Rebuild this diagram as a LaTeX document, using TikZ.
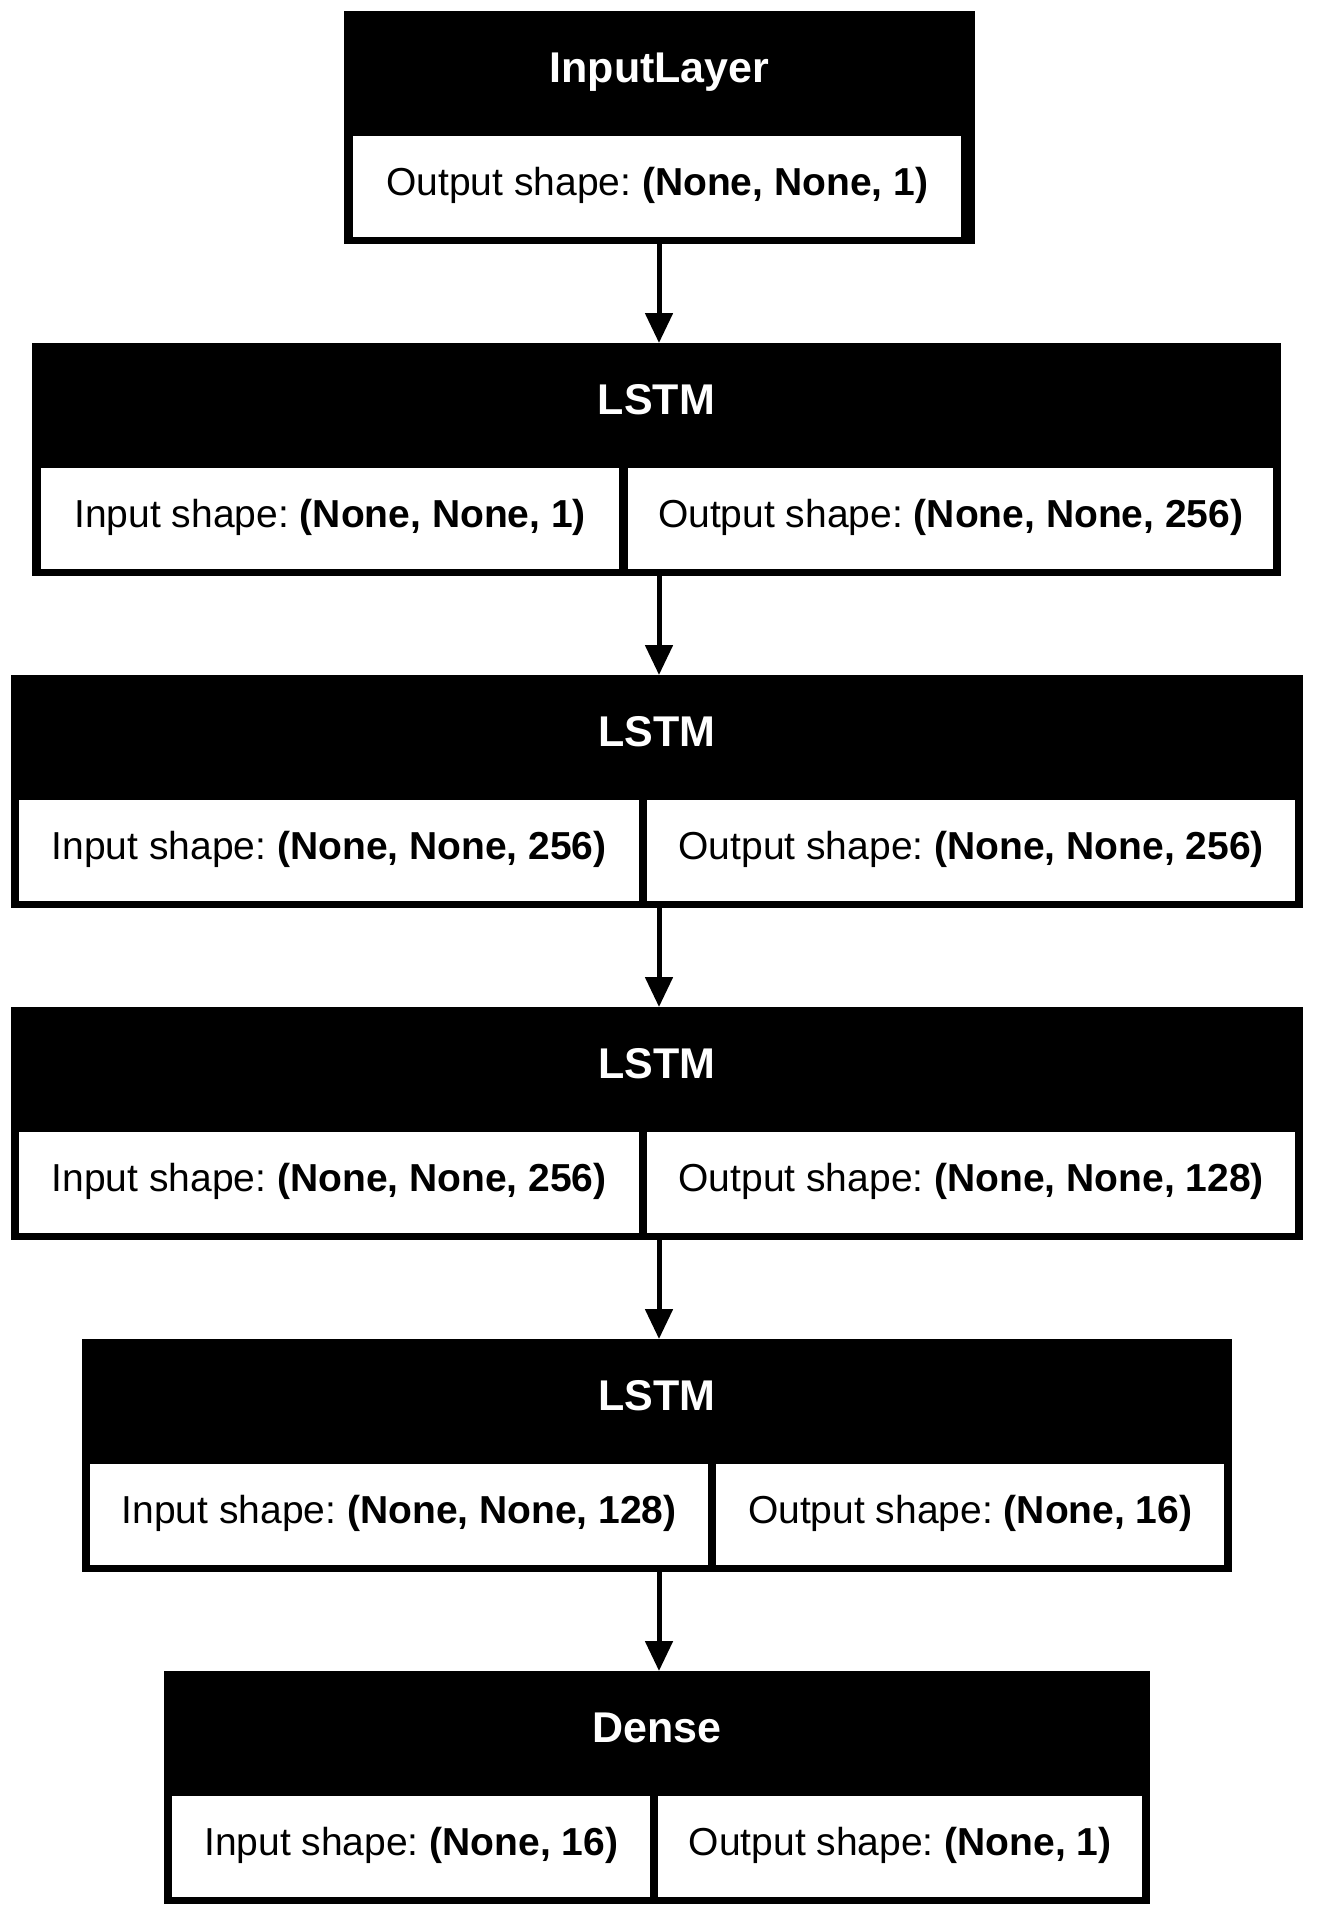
\documentclass[tikz,border=0pt]{standalone}
\usepackage{fontspec}
\setmainfont{Liberation Sans}
\usetikzlibrary{arrows.meta}
\frenchspacing

\tikzset{
    layerbox/.style={rectangle,fill=black,inner sep=0pt,anchor=north west,minimum height=233pt},
    cellbox/.style={rectangle,fill=white,inner sep=0pt,anchor=north west,minimum height=101pt,
        font=\fontsize{39}{47}\selectfont,text height=29pt,text depth=12pt},
    headtext/.style={anchor=base,inner sep=0pt,text=white,font=\fontsize{43}{52}\selectfont\bfseries},
    flow/.style={line width=5pt,-{Triangle[width=27pt,length=30pt]}},
}

\begin{document}
\begin{tikzpicture}[x=1pt,y=-1pt]
    \useasboundingbox (0,0) rectangle (1319,1922);

    % input layer
    \node[layerbox,minimum width=631pt] (inl) at (344,11) {};
    \node[headtext] (inl-t) at (659.5,82) {InputLayer};
    \node[cellbox,minimum width=608pt] (inl-o) at (353,136) {Output shape: \textbf{(None, None, 1)}};

    % lstm 1
    \node[layerbox,minimum width=1249pt] (l1) at (32,343) {};
    \node[headtext] (l1-t) at (656.5,414) {LSTM};
    \node[cellbox,minimum width=578pt] (l1-i) at (41,468) {Input shape: \textbf{(None, None, 1)}};
    \node[cellbox,minimum width=645pt] (l1-o) at (628,468) {Output shape: \textbf{(None, None, 256)}};

    % lstm 2
    \node[layerbox,minimum width=1292pt] (l2) at (11,675) {};
    \node[headtext] (l2-t) at (657,746) {LSTM};
    \node[cellbox,minimum width=620pt] (l2-i) at (19,800) {Input shape: \textbf{(None, None, 256)}};
    \node[cellbox,minimum width=648pt] (l2-o) at (647,800) {Output shape: \textbf{(None, None, 256)}};

    % lstm 3
    \node[layerbox,minimum width=1292pt] (l3) at (11,1007) {};
    \node[headtext] (l3-t) at (657,1078) {LSTM};
    \node[cellbox,minimum width=620pt] (l3-i) at (19,1132) {Input shape: \textbf{(None, None, 256)}};
    \node[cellbox,minimum width=648pt] (l3-o) at (647,1132) {Output shape: \textbf{(None, None, 128)}};

    % lstm 4
    \node[layerbox,minimum width=1150pt] (l4) at (82,1339) {};
    \node[headtext] (l4-t) at (657,1410) {LSTM};
    \node[cellbox,minimum width=618pt] (l4-i) at (90,1464) {Input shape: \textbf{(None, None, 128)}};
    \node[cellbox,minimum width=508pt] (l4-o) at (716,1464) {Output shape: \textbf{(None, 16)}};

    % dense
    \node[layerbox,minimum width=986pt] (dn) at (164,1671) {};
    \node[headtext] (dn-t) at (657,1742) {Dense};
    \node[cellbox,minimum width=478pt] (dn-i) at (172,1796) {Input shape: \textbf{(None, 16)}};
    \node[cellbox,minimum width=484pt] (dn-o) at (658,1796) {Output shape: \textbf{(None, 1)}};

    \draw[flow] (659,0 |- inl.south) -- (659,0 |- l1.north);
    \draw[flow] (659,0 |- l1.south) -- (659,0 |- l2.north);
    \draw[flow] (659,0 |- l2.south) -- (659,0 |- l3.north);
    \draw[flow] (659,0 |- l3.south) -- (659,0 |- l4.north);
    \draw[flow] (659,0 |- l4.south) -- (659,0 |- dn.north);

\end{tikzpicture}
\end{document}
